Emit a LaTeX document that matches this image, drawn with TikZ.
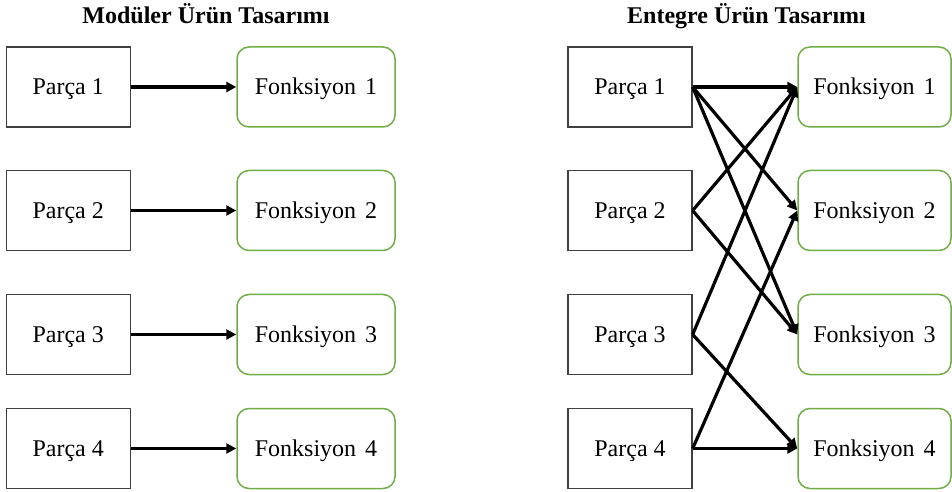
\documentclass[tikz,border=0pt]{standalone}
\usepackage{fontspec}
\setmainfont{Liberation Serif}
\usetikzlibrary{arrows.meta}
\definecolor{fgreen}{HTML}{70AD47}
\definecolor{pgray}{HTML}{404040}
\begin{document}
\begin{tikzpicture}[x=1bp,y=-1bp,
  lbl/.style={font=\fontsize{24bp}{28bp}\selectfont, text height=16bp, text depth=0bp, inner sep=0pt},
  parca/.style={lbl, draw=pgray, line width=1.3bp, minimum width=124bp, minimum height=80bp},
  fonk/.style={lbl, draw=fgreen, line width=1.5bp, rounded corners=12bp, minimum height=80bp},
  conn/.style={line width=3.2bp, -{Triangle[length=10bp,width=10bp]}},
  ttl/.style={font=\fontsize{24bp}{28bp}\selectfont\bfseries, anchor=base, inner sep=0pt}]
\useasboundingbox (0,0) rectangle (952,492);
% titles
\node[ttl] (t1) at (206,24) {Modüler Ürün Tasarımı};
\node[ttl] (t2) at (746.5,24) {Entegre Ürün Tasarımı};
% boxes
\foreach \i/\y in {1/87,2/210.5,3/334.5,4/448.5}{
  \node[parca] (lp\i) at (68.25,\y) {Parça \i};
  \node[fonk, minimum width=158bp] (lf\i) at (316,\y) {Fonksiyon\hspace{0.37em}\i};
  \node[parca] (rp\i) at (630,\y) {Parça \i};
  \node[fonk, minimum width=153bp] (rf\i) at (874.5,\y) {Fonksiyon\hspace{0.37em}\i};
}
% left connections
\foreach \i in {1,2,3,4}{
  \draw[conn] (lp\i.east) -- (lf\i.west);
}
% right connections
\draw[conn] (rp1.east) -- (rf1.west);
\draw[conn] (rp1.east) -- (rf2.west);
\draw[conn] (rp1.east) -- (rf3.west);
\draw[conn] (rp2.east) -- (rf1.west);
\draw[conn] (rp2.east) -- (rf3.west);
\draw[conn] (rp3.east) -- (rf1.west);
\draw[conn] (rp3.east) -- (rf4.west);
\draw[conn] (rp4.east) -- (rf2.west);
\draw[conn] (rp4.east) -- (rf4.west);
\end{tikzpicture}
\end{document}
